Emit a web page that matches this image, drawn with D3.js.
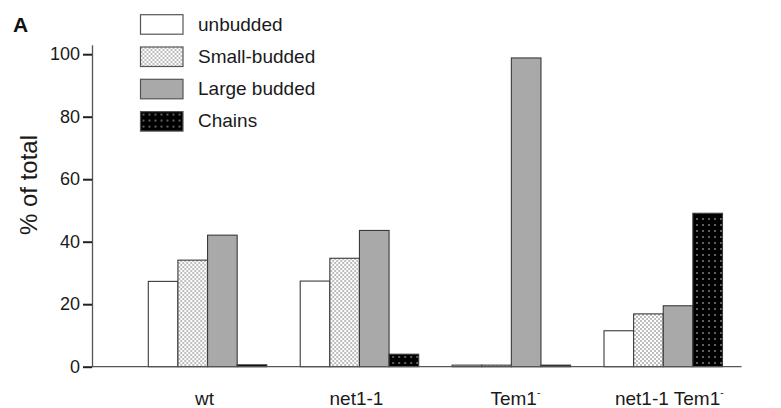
<!DOCTYPE html>
<html>
<head>
<meta charset="utf-8">
<script src="https://cdn.jsdelivr.net/npm/d3@7"></script>
<style>
  html, body { margin: 0; padding: 0; background: #fff; }
  svg { display: block; font-family: "Liberation Sans", Arial, Helvetica, sans-serif; }
</style>
</head>
<body>
<svg id="chart" width="781" height="408"></svg>
<script>
// ---- data ----
const categories = ["wt", "net1-1", "Tem1", "net1-1 Tem1"];
const categorySup = ["", "", "-", "-"];
const seriesNames = ["unbudded", "Small-budded", "Large budded", "Chains"];
const unbudded    = [27.3, 27.4, 0.5, 11.5];
const smallBudded = [34.1, 34.7, 0.5, 16.9];
const largeBudded = [42.1, 43.6, 98.8, 19.5];
const chains      = [0.6, 4.0, 0.5, 49.1];
const yTicks = [0, 20, 40, 60, 80, 100];

const seriesValues = [unbudded, smallBudded, largeBudded, chains];
const fills = ["#ffffff", "url(#pSmall)", "#a9a9a9", "url(#pChains)"];

const svg = d3.select("#chart");
const stroke = "#3a3a3a";
const txt = "#1a1a1a";
const ff = "Liberation Sans, Arial, sans-serif";

// patterns
const defs = svg.append("defs");
const pS = defs.append("pattern").attr("id", "pSmall").attr("patternUnits", "userSpaceOnUse")
  .attr("width", 4).attr("height", 4);
pS.append("rect").attr("width", 4).attr("height", 4).attr("fill", "#fff");
pS.append("circle").attr("cx", 1).attr("cy", 1).attr("r", 0.8).attr("fill", "#6a6a6a");
pS.append("circle").attr("cx", 3).attr("cy", 3).attr("r", 0.8).attr("fill", "#6a6a6a");
const pC = defs.append("pattern").attr("id", "pChains").attr("patternUnits", "userSpaceOnUse")
  .attr("width", 6).attr("height", 6);
pC.append("rect").attr("width", 6).attr("height", 6).attr("fill", "#000");
pC.append("circle").attr("cx", 3).attr("cy", 3).attr("r", 0.8).attr("fill", "#d8d8d8");

// scales
const y = d3.scaleLinear().domain([0, 103]).range([366.7, 366.7 - 103 * 3.125]);
const x0 = d3.scaleBand().domain(categories).range([131.6, 739.2]).paddingInner(0.22).paddingOuter(0.11);
const x1 = d3.scaleBand().domain(seriesNames).range([0, x0.bandwidth()]);

// bars
const groups = svg.append("g").selectAll("g").data(categories).join("g")
  .attr("transform", d => `translate(${x0(d)},0)`);
groups.selectAll("rect")
  .data((d, i) => seriesNames.map((s, j) => ({ s, j, v: seriesValues[j][i] })))
  .join("rect")
  .attr("x", d => x1(d.s))
  .attr("y", d => y(d.v))
  .attr("width", x1.bandwidth())
  .attr("height", d => y(0) - y(d.v))
  .attr("fill", d => fills[d.j])
  .attr("stroke", stroke)
  .attr("stroke-width", 1.1);

// y axis
const yAxis = svg.append("g").attr("transform", "translate(92,0)")
  .call(d3.axisLeft(y).tickValues(yTicks).tickSize(9).tickPadding(3).tickSizeOuter(0));
yAxis.select(".domain").attr("stroke", "#555").attr("stroke-width", 1.3);
yAxis.selectAll(".tick line").attr("stroke", "#222").attr("stroke-width", 2);
yAxis.selectAll(".tick text").attr("font-size", 18).attr("fill", txt).attr("font-family", ff);

// x baseline
svg.append("line").attr("x1", 92).attr("x2", 741.5).attr("y1", y(0)).attr("y2", y(0))
  .attr("stroke", "#555").attr("stroke-width", 1.3);

// x axis labels
const xAxis = svg.append("g").attr("transform", `translate(0,${y(0)})`)
  .call(d3.axisBottom(x0).tickSize(0).tickPadding(24.5));
xAxis.select(".domain").remove();
xAxis.selectAll(".tick text").each(function (d, i) {
  const t = d3.select(this);
  t.text(null).attr("font-size", 19).attr("fill", txt).attr("font-family", ff);
  t.append("tspan").text(d);
  if (categorySup[i]) {
    t.append("tspan").text(categorySup[i]).attr("font-size", 10).attr("dy", "-0.9em");
    t.attr("dx", i === 2 ? 4 : 6);
  } else {
    t.attr("dx", -3);
  }
});

// y axis title
svg.append("text").attr("transform", "translate(37,185) rotate(-90)")
  .attr("text-anchor", "middle").attr("font-size", 24).attr("fill", txt)
  .text("% of total");

// panel letter
svg.append("text").attr("x", 13).attr("y", 32).attr("font-size", 21).attr("font-weight", "bold")
  .attr("fill", "#111").text("A");

// legend
const legend = svg.append("g").selectAll("g").data(seriesNames).join("g")
  .attr("transform", (d, i) => `translate(140.5,${14.7 + i * 32.3})`);
legend.append("rect").attr("width", 42.5).attr("height", 19.5)
  .attr("fill", (d, i) => fills[i]).attr("stroke", "#555").attr("stroke-width", 1.2);
legend.append("text").attr("x", 57.5).attr("y", 9).attr("dy", "0.36em")
  .attr("font-size", 19).attr("fill", txt).text(d => d);
</script>
</body>
</html>
